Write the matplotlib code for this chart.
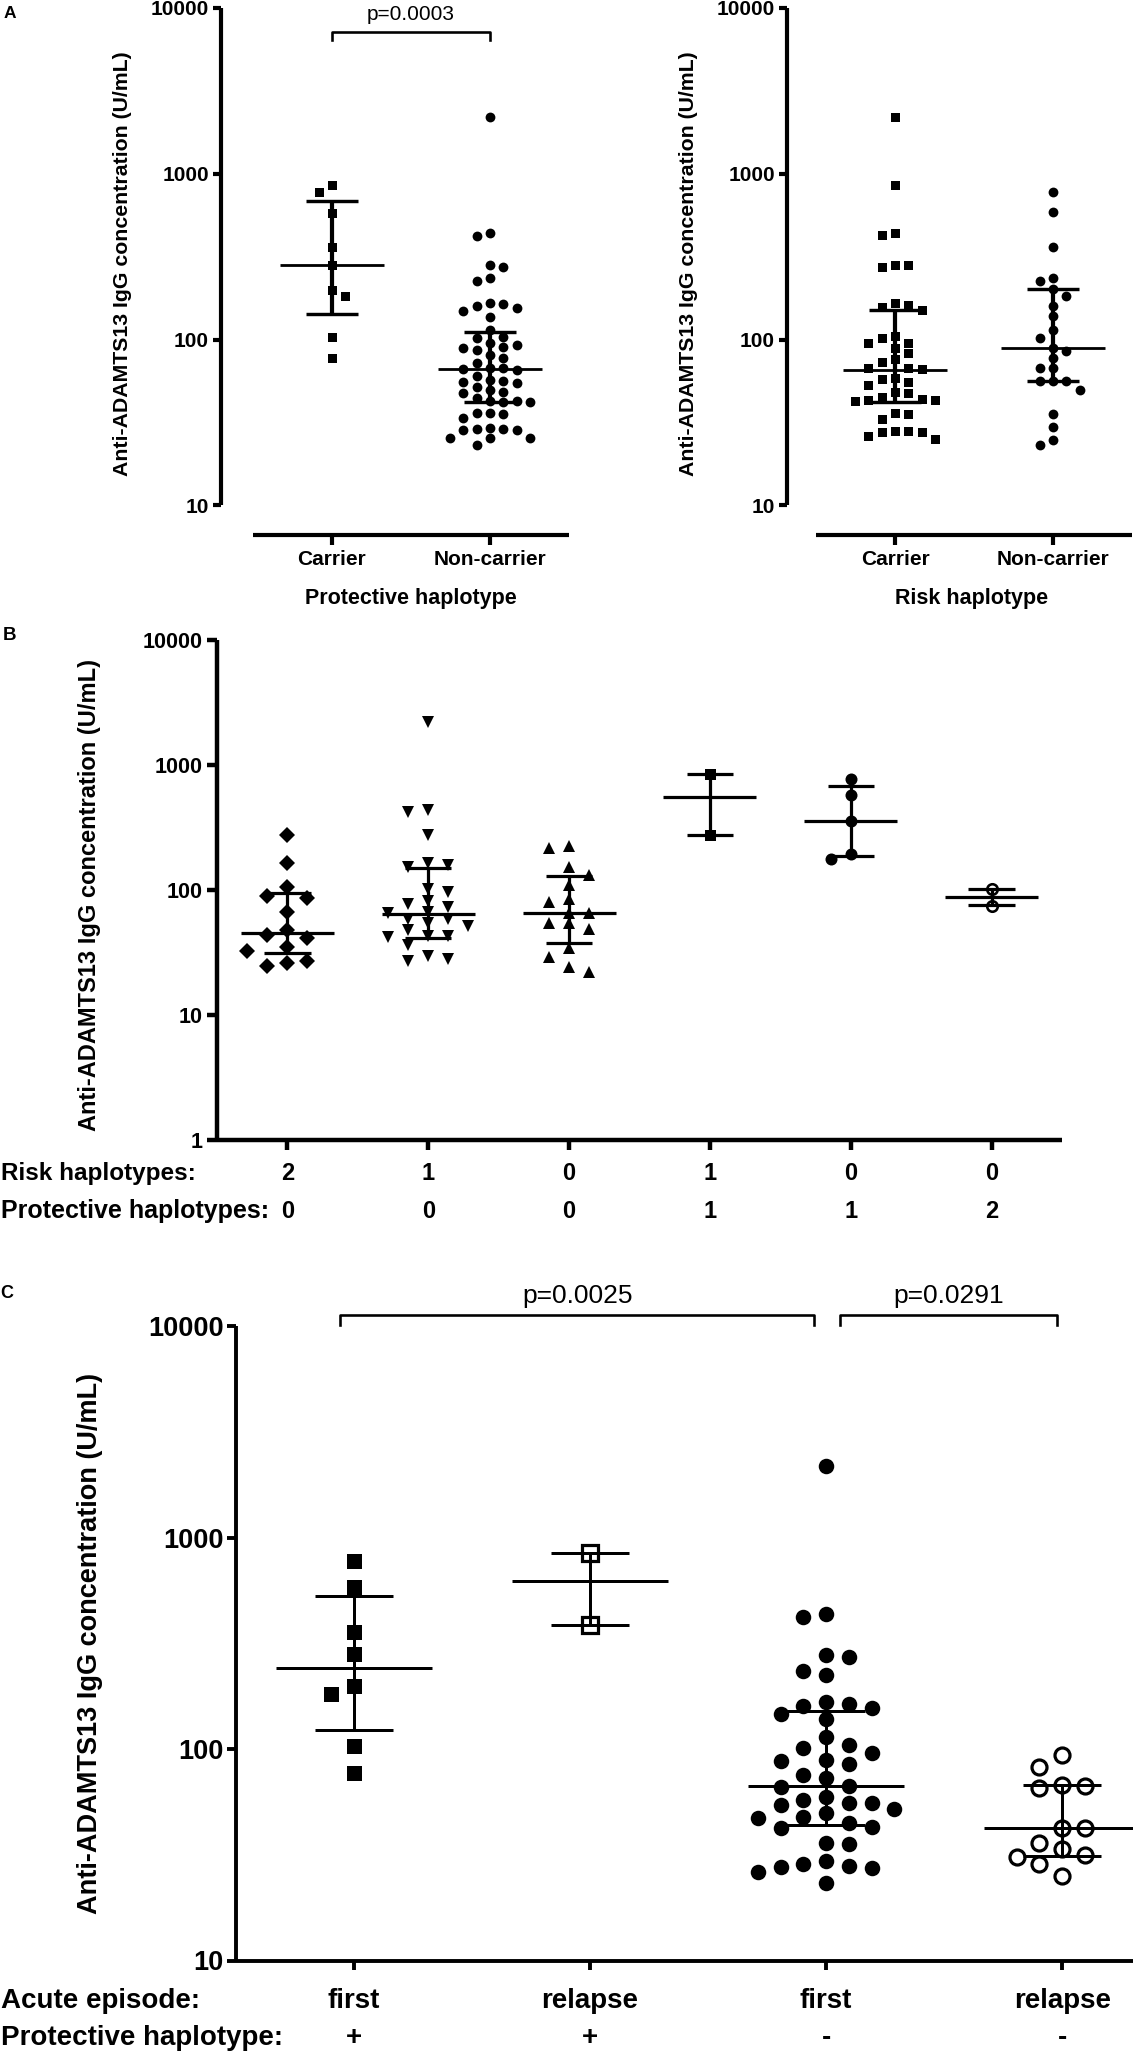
import numpy as np
import matplotlib
matplotlib.use("Agg")
import matplotlib.pyplot as plt
from matplotlib.ticker import NullLocator
from matplotlib.transforms import blended_transform_factory

plt.rcParams["font.family"] = ["Liberation Sans", "DejaVu Sans"]

W, H = 1133, 2056
PT = 0.72  # points per pixel at dpi 100

# ---------------- data (U/mL) ----------------
# Panel A, left: protective haplotype
prot_carrier = [853, 776, 583, 360, 281, 199, 183, 103, 77]
prot_noncarrier = [2208, 437, 423, 281, 275, 234, 225, 167, 163, 159, 154, 149, 137,
                   114, 104, 101.6, 94.8, 92.6, 89.7, 88.5, 86.5, 80.7, 77, 72.5,
                   67, 67.2, 66, 65.6, 60.3, 57, 56.2, 55.6, 54.4, 51.9, 49.6, 48.4,
                   47.3, 44.2, 42.4, 42.2, 42.0, 42.3, 36.2, 35.9, 35.6, 33.5,
                   29.2, 28.8, 28.5, 29.0, 28.6, 25.6, 25.3, 25.5, 23.2]
prot_median = [281, 66]
prot_q1 = [143, 42.2]
prot_q3 = [688, 111]

# Panel A, right: risk haplotype
risk_carrier = [2208, 853, 436, 425, 281, 274, 280, 167, 158, 162, 151, 105.5, 101.7,
                94.8, 95.7, 88.5, 82.6, 76, 72.8, 67, 67.3, 66.8, 58.9, 57.8, 55.2,
                53.2, 48.5, 47.3, 45.2, 43.5, 43.0, 42.8, 43.3, 35.8, 35.6, 33.3,
                28.0, 28.2, 27.5, 27.7, 25.1, 26.0]
risk_noncarrier = [779, 590, 360, 225, 236, 201, 183, 160, 139, 114, 102.6, 85.3,
                   88.5, 77, 67.6, 67, 56.4, 56.2, 56.0, 49.5, 35.3, 29.6, 23.2, 24.9]
risk_median = [65.5, 88.5]
risk_q1 = [42.2, 56.2]
risk_q3 = [151, 201]

# Panel B: groups by (risk, protective) haplotype count
b_risk = ["2", "1", "0", "1", "0", "0"]
b_prot = ["0", "0", "0", "1", "1", "2"]
b_groups = [
    [277, 165, 106, 90, 86.5, 67.6, 48.2, 44, 41.4, 35.5, 33, 27.2, 26.1, 24.8],
    [2238, 440, 427, 277, 167, 160, 155, 102, 97.7, 82.8, 77.8, 74, 67.6, 65.6,
     58.8, 58.6, 55.2, 51.9, 48.2, 43.2, 43.0, 42.2, 36.6, 29.9, 28.1, 27.4],
    [226, 217, 155, 133, 110, 84.9, 81.3, 65.6, 65.4, 54.6, 54.4, 48.9, 34.4,
     29.5, 24.5, 22.4],
    [849, 278],
    [776, 583, 358, 197, 179],
    [103, 75.5],
]
b_median = [45.4, 64.4, 66.4, 562, 358, 88.5]
b_q1 = [31.4, 41.4, 38.2, 278, 189, 76]
b_q3 = [96, 150, 130, 849, 678, 103]

# Panel C: acute episode x protective haplotype
c_episode = ["first", "relapse", "first", "relapse"]
c_prot = ["+", "+", "-", "-"]
c_groups = [
    [776, 586, 357, 280, 198, 182, 103, 77],
    [847, 384],
    [2187, 434, 423, 278, 273, 234, 224, 166, 163, 160, 156, 147, 138, 113.5,
     104.4, 101.4, 95.4, 88.8, 88.1, 85, 75.4, 72.6, 67.1, 66.4, 59.2, 57.5,
     55.8, 55.6, 54.4, 51.9, 49.6, 47.9, 47.4, 44.5, 42.6, 42.2, 36.1, 35.6,
     29.6, 28.6, 27.8, 27.9, 27.3, 26.3, 23.2],
    [93.8, 82.6, 67.3, 65.5, 67.1, 42.1, 42.3, 36.1, 33.7, 31, 31.6, 28.6, 25.2],
]
c_median = [242, 625, 67.1, 42.1]
c_q1 = [123, 384, 43.7, 31.2]
c_q3 = [530, 847, 152, 67.3]

# ---------------- helpers ----------------
fig = plt.figure(figsize=(W / 100, H / 100), dpi=100)


def add_axes(left, top, right, bottom):
    return fig.add_axes([left / W, 1 - bottom / H, (right - left) / W, (bottom - top) / H])


def fy(y_px):
    return 1 - y_px / H


def style(ax, ylim, ticks, lw, fs, ylen, xlen, pad, xlim, npos, left_out=0, bottom_out=0):
    # spine positions first: moving a spine resets the ticks
    for s in ("top", "right"):
        ax.spines[s].set_visible(False)
    if left_out:
        ax.spines["left"].set_position(("outward", left_out * PT))
    if bottom_out:
        ax.spines["bottom"].set_position(("outward", bottom_out * PT))
    for s in ("left", "bottom"):
        ax.spines[s].set_linewidth(lw)
        ax.spines[s].set_capstyle("butt")
    ax.set_yscale("log")
    ax.set_ylim(*ylim)
    ax.set_xlim(*xlim)
    ax.tick_params(axis="y", direction="out", width=lw, length=ylen * PT, pad=pad * PT,
                   labelsize=fs)
    ax.tick_params(axis="x", direction="out", width=lw, length=xlen * PT)
    ax.set_yticks(ticks, labels=[str(t) for t in ticks], fontsize=fs, fontweight="bold")
    ax.yaxis.set_minor_locator(NullLocator())
    ax.set_xticks(range(npos), labels=[""] * npos)
    ax.patch.set_alpha(0)


def swarm(ax, x0, values, step, wy, wx=None):
    # simple column beeswarm in pixel space
    if wx is None:
        wx = step * 0.99
    vals = np.asarray(values, float)
    ys = ax.transData.transform(np.column_stack([np.zeros(len(vals)), vals]))[:, 1]
    upp = ax.transData.transform([(1, 1)])[0, 0] - ax.transData.transform([(0, 1)])[0, 0]
    placed = []
    offs = np.zeros(len(vals))
    for i in np.argsort(-vals, kind="stable"):
        def free(dx):
            return all(abs(dx - px) >= wx or abs(ys[i] - py) >= wy for px, py in placed)
        chosen = None
        for m in range(0, 40):
            if m == 0:
                if free(0.0):
                    chosen = 0.0
                    break
                continue
            right = free(m * step)
            left = free(-m * step)
            if right and left:
                nl = sum(1 for px, _ in placed if px < 0)
                nr = sum(1 for px, _ in placed if px > 0)
                chosen = m * step if nr < nl else -m * step
                break
            if left:
                chosen = -m * step
                break
            if right:
                chosen = m * step
                break
        placed.append((chosen, ys[i]))
        offs[i] = chosen
    return x0 + offs / upp


def group(ax, pos, values, marker, ms, step, wy, wx=None, open_=False, mew=0):
    xs = swarm(ax, pos, values, step, wy, wx)
    ax.plot(xs, values, linestyle="none", marker=marker, markersize=ms * PT,
            markerfacecolor="white" if open_ else "black", markeredgecolor="black",
            markeredgewidth=mew * PT if open_ else 0, zorder=3, clip_on=False)


def bars(ax, pos, med, q1, q3, lw_v, lw_m, lw_c, half_m=0.33, half_c=0.165):
    kw = dict(color="black", zorder=4, clip_on=False, solid_capstyle="butt")
    ax.plot([pos, pos], [q1, q3], lw=lw_v * PT, **kw)
    ax.plot([pos - half_m, pos + half_m], [med, med], lw=lw_m * PT, **kw)
    ax.plot([pos - half_c, pos + half_c], [q1, q1], lw=lw_c * PT, **kw)
    ax.plot([pos - half_c, pos + half_c], [q3, q3], lw=lw_c * PT, **kw)


def bracket(ax, x1, x2, y_top, y_bot, text, text_base, fs, lw):
    tr = blended_transform_factory(ax.transData, fig.transFigure)
    ax.plot([x1, x1, x2, x2], [fy(y_bot), fy(y_top), fy(y_top), fy(y_bot)],
            transform=tr, color="black", lw=lw * PT, clip_on=False)
    ax.text((x1 + x2) / 2, fy(text_base), text, transform=tr, ha="center",
            va="baseline", fontsize=fs)


def row_text(ax, labels, y_base, fs):
    tr = blended_transform_factory(ax.transData, fig.transFigure)
    for i, lab in enumerate(labels):
        ax.text(i, fy(y_base), lab, transform=tr, ha="center", va="baseline",
                fontsize=fs, fontweight="bold")


YLABEL = "Anti-ADAMTS13 IgG concentration (U/mL)"

# ---------------- panel A ----------------
axA1 = add_axes(253, 7.9, 569, 505.3)
axA2 = add_axes(816, 7.9, 1132, 505.3)
for ax, left_out in ((axA1, 32), (axA2, 29)):
    style(ax, (10, 10000), [10, 100, 1000, 10000], 3, 15, 8, 10, 4,
          (-0.5, 1.5), 2, left_out=left_out, bottom_out=30)

group(axA1, 0, prot_carrier, "s", 9, 13.3, 10)
group(axA1, 1, prot_noncarrier, "o", 9.8, 13.3, 10)
group(axA2, 0, risk_carrier, "s", 9, 13.3, 10)
group(axA2, 1, risk_noncarrier, "o", 9.8, 13.3, 10)
for ax, med, q1, q3 in ((axA1, prot_median, prot_q1, prot_q3),
                        (axA2, risk_median, risk_q1, risk_q3)):
    for i in range(2):
        bars(ax, i, med[i], q1[i], q3[i], 4.2, 2.8, 3.4)

bracket(axA1, 0, 1, 32, 40, "p=0.0003", 20, 15, 2.6)
row_text(axA1, ["Carrier", "Non-carrier"], 565, 15)
row_text(axA2, ["Carrier", "Non-carrier"], 565, 15)
fig.text(411 / W, fy(604), "Protective haplotype", ha="center", va="baseline",
         fontsize=15.5, fontweight="bold")
fig.text(972 / W, fy(604), "Risk haplotype", ha="center", va="baseline",
         fontsize=15.5, fontweight="bold")
fig.text(123 / W, fy(264), YLABEL, rotation=90, ha="center", va="center",
         fontsize=15.3, fontweight="bold")
fig.text(688 / W, fy(264), YLABEL, rotation=90, ha="center", va="center",
         fontsize=15.3, fontweight="bold")
fig.text(4 / W, fy(18), "A", fontsize=12.5, fontweight="bold", va="baseline")

# ---------------- panel B ----------------
axB = add_axes(217, 640.4, 1062, 1140.4)
style(axB, (1, 10000), [1, 10, 100, 1000, 10000], 3.2, 15.5, 10, 10, 4.5,
      (-0.5, 5.5), 6)
b_markers = [("D", 11.2, 20, 16, None, False), ("v", 12, 10, 10, 12, False),
             ("^", 12, 10, 10, 12, False), ("s", 11, 20, 12, None, False),
             ("o", 12, 20, 12, None, False), ("o", 10.5, 20, 12, None, True)]
for i, (vals, (mk, ms, st, wy, wx, op)) in enumerate(zip(b_groups, b_markers)):
    group(axB, i, vals, mk, ms, st, wy, wx, open_=op, mew=2.6)
    bars(axB, i, b_median[i], b_q1[i], b_q3[i], 3.2, 3.2, 3.2)

fig.text(1 / W, fy(1180), "Risk haplotypes:", va="baseline", fontsize=17.5,
         fontweight="bold")
fig.text(1 / W, fy(1218), "Protective haplotypes:", va="baseline", fontsize=18,
         fontweight="bold")
row_text(axB, b_risk, 1180, 17)
row_text(axB, b_prot, 1218, 17)
fig.text(90 / W, fy(895), YLABEL, rotation=90, ha="center", va="center",
         fontsize=17, fontweight="bold")
fig.text(3 / W, fy(640), "B", fontsize=13.5, fontweight="bold", va="baseline")

# ---------------- panel C ----------------
axC = add_axes(236, 1326, 1133, 1960.5)
style(axC, (10, 10000), [10, 100, 1000, 10000], 2.8, 19.5, 9, 9, 3.5,
      (-0.5, 3.3), 4)
c_markers = [("s", 15, 22.7, 15, None, False), ("s", 15.5, 22.7, 15, None, True),
             ("o", 15.5, 22.7, 16, None, False), ("o", 15, 22.7, 16, None, True)]
for i, (vals, (mk, ms, st, wy, wx, op)) in enumerate(zip(c_groups, c_markers)):
    group(axC, i, vals, mk, ms, st, wy, wx, open_=op, mew=3.2)
    bars(axC, i, c_median[i], c_q1[i], c_q3[i], 3.0, 3.0, 3.0)

bracket(axC, -0.06, 1.95, 1315, 1325, "p=0.0025", 1303, 19, 2.6)
bracket(axC, 2.06, 2.98, 1315, 1325, "p=0.0291", 1303, 19, 2.6)
fig.text(1 / W, fy(2008), "Acute episode:", va="baseline", fontsize=20,
         fontweight="bold")
fig.text(1 / W, fy(2045), "Protective haplotype:", va="baseline", fontsize=20,
         fontweight="bold")
row_text(axC, c_episode, 2008, 20)
row_text(axC, c_prot, 2045, 20)
fig.text(90 / W, fy(1643), YLABEL, rotation=90, ha="center", va="center",
         fontsize=19.5, fontweight="bold")
fig.text(0 / W, fy(1298), "C", fontsize=13, fontweight="bold", va="baseline")

fig.savefig("out.png", dpi=100)
